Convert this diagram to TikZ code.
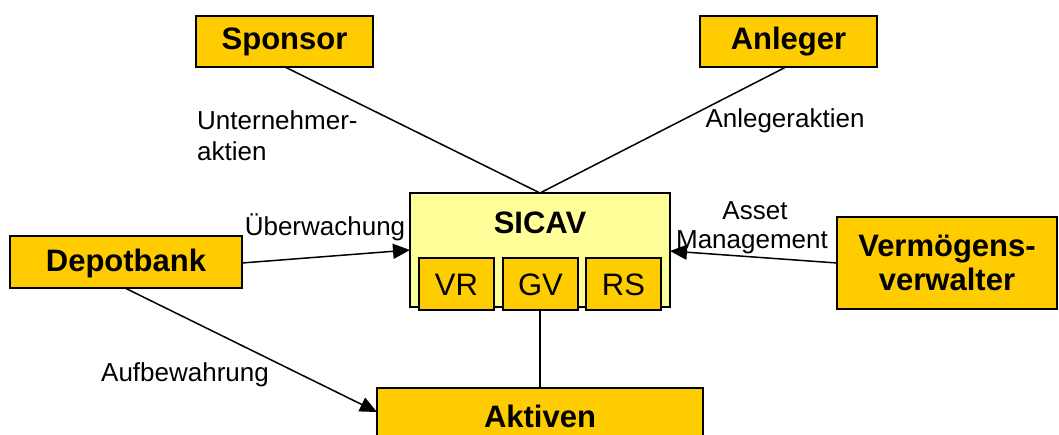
\documentclass[tikz,border=0pt]{standalone}
\usepackage{fontspec}
\setmainfont{Liberation Sans}
\usetikzlibrary{arrows.meta}
\definecolor{gold}{HTML}{FFCC00}
\definecolor{paleyellow}{HTML}{FFFF99}
\tikzset{
  box/.style={draw=black, line width=1.5pt, fill=gold, inner sep=0pt},
  lbl/.style={font=\fontsize{26}{31}\selectfont, inner sep=0pt},
  conn/.style={draw=black, line width=1.5pt},
  arr/.style={conn, -{Triangle[length=17pt,width=15pt]}},
  bigtext/.style={font=\fontsize{31}{34}\selectfont\bfseries, inner sep=0pt},
  subtext/.style={font=\fontsize{31}{34}\selectfont, inner sep=0pt}
}
\begin{document}
\begin{tikzpicture}[x=1pt,y=-1pt]
\useasboundingbox (0,0) rectangle (1059,435);
\clip (0,0) rectangle (1059,435);
% boxes
\draw[box] (196,16) rectangle (373,67);
\node[bigtext] (sponsor) at (284.5,42) {Sponsor};
\draw[box] (700,16) rectangle (877,67);
\node[bigtext] (anleger) at (788.5,42) {Anleger};
\draw[box] (10,236) rectangle (242,288);
\node[bigtext] (depot) at (126,263) {Depotbank};
\draw[box] (837,217) rectangle (1057,309);
\node[bigtext, align=center] (verm) at (947,263) {Vermögens-\\verwalter};
\draw[box] (377,388) rectangle (703,450);
\node[bigtext] (aktiven) at (540,416) {Aktiven};
% SICAV
\draw[box, fill=paleyellow] (410,193) rectangle (670,307);
\node[bigtext] (sicav) at (540,223) {SICAV};
\draw[box] (419,258) rectangle (494,310);
\node[subtext] (vr) at (456.5,285) {VR};
\draw[box] (503,258) rectangle (578,310);
\node[subtext] (gv) at (540.5,285) {GV};
\draw[box] (586,258) rectangle (661,310);
\node[subtext] (rs) at (623.5,285) {RS};
% anchor coordinates
\coordinate (sponsorB) at (285,67);
\coordinate (anlegerB) at (786,67);
\coordinate (sicavT) at (540,193);
\coordinate (depotR) at (242,263);
\coordinate (sicavL) at (410,250);
\coordinate (vermL) at (837,263);
\coordinate (sicavR) at (670,251);
\coordinate (depotB) at (125,288);
\coordinate (aktivenL) at (377,412);
\coordinate (gvB) at (540,310);
\coordinate (aktivenT) at (540,388);
% connectors
\draw[conn] (sponsorB) -- (sicavT);
\draw[conn] (anlegerB) -- (sicavT);
\draw[arr] (depotR) -- (sicavL);
\draw[arr] (vermL) -- (sicavR);
\draw[arr] (depotB) -- (aktivenL);
\draw[conn] (gvB) -- (aktivenT);
% labels
\node[lbl, anchor=west, align=left] (lu) at (197,136) {Unternehmer-\\aktien};
\node[lbl] (la) at (785,121) {Anlegeraktien};
\node[lbl] (lue) at (325,227) {Überwachung};
\node[lbl] (lasset) at (755,211) {Asset};
\node[lbl] (lman) at (752,242) {Management};
\node[lbl] (lauf) at (185,375) {Aufbewahrung};
\end{tikzpicture}
\end{document}
